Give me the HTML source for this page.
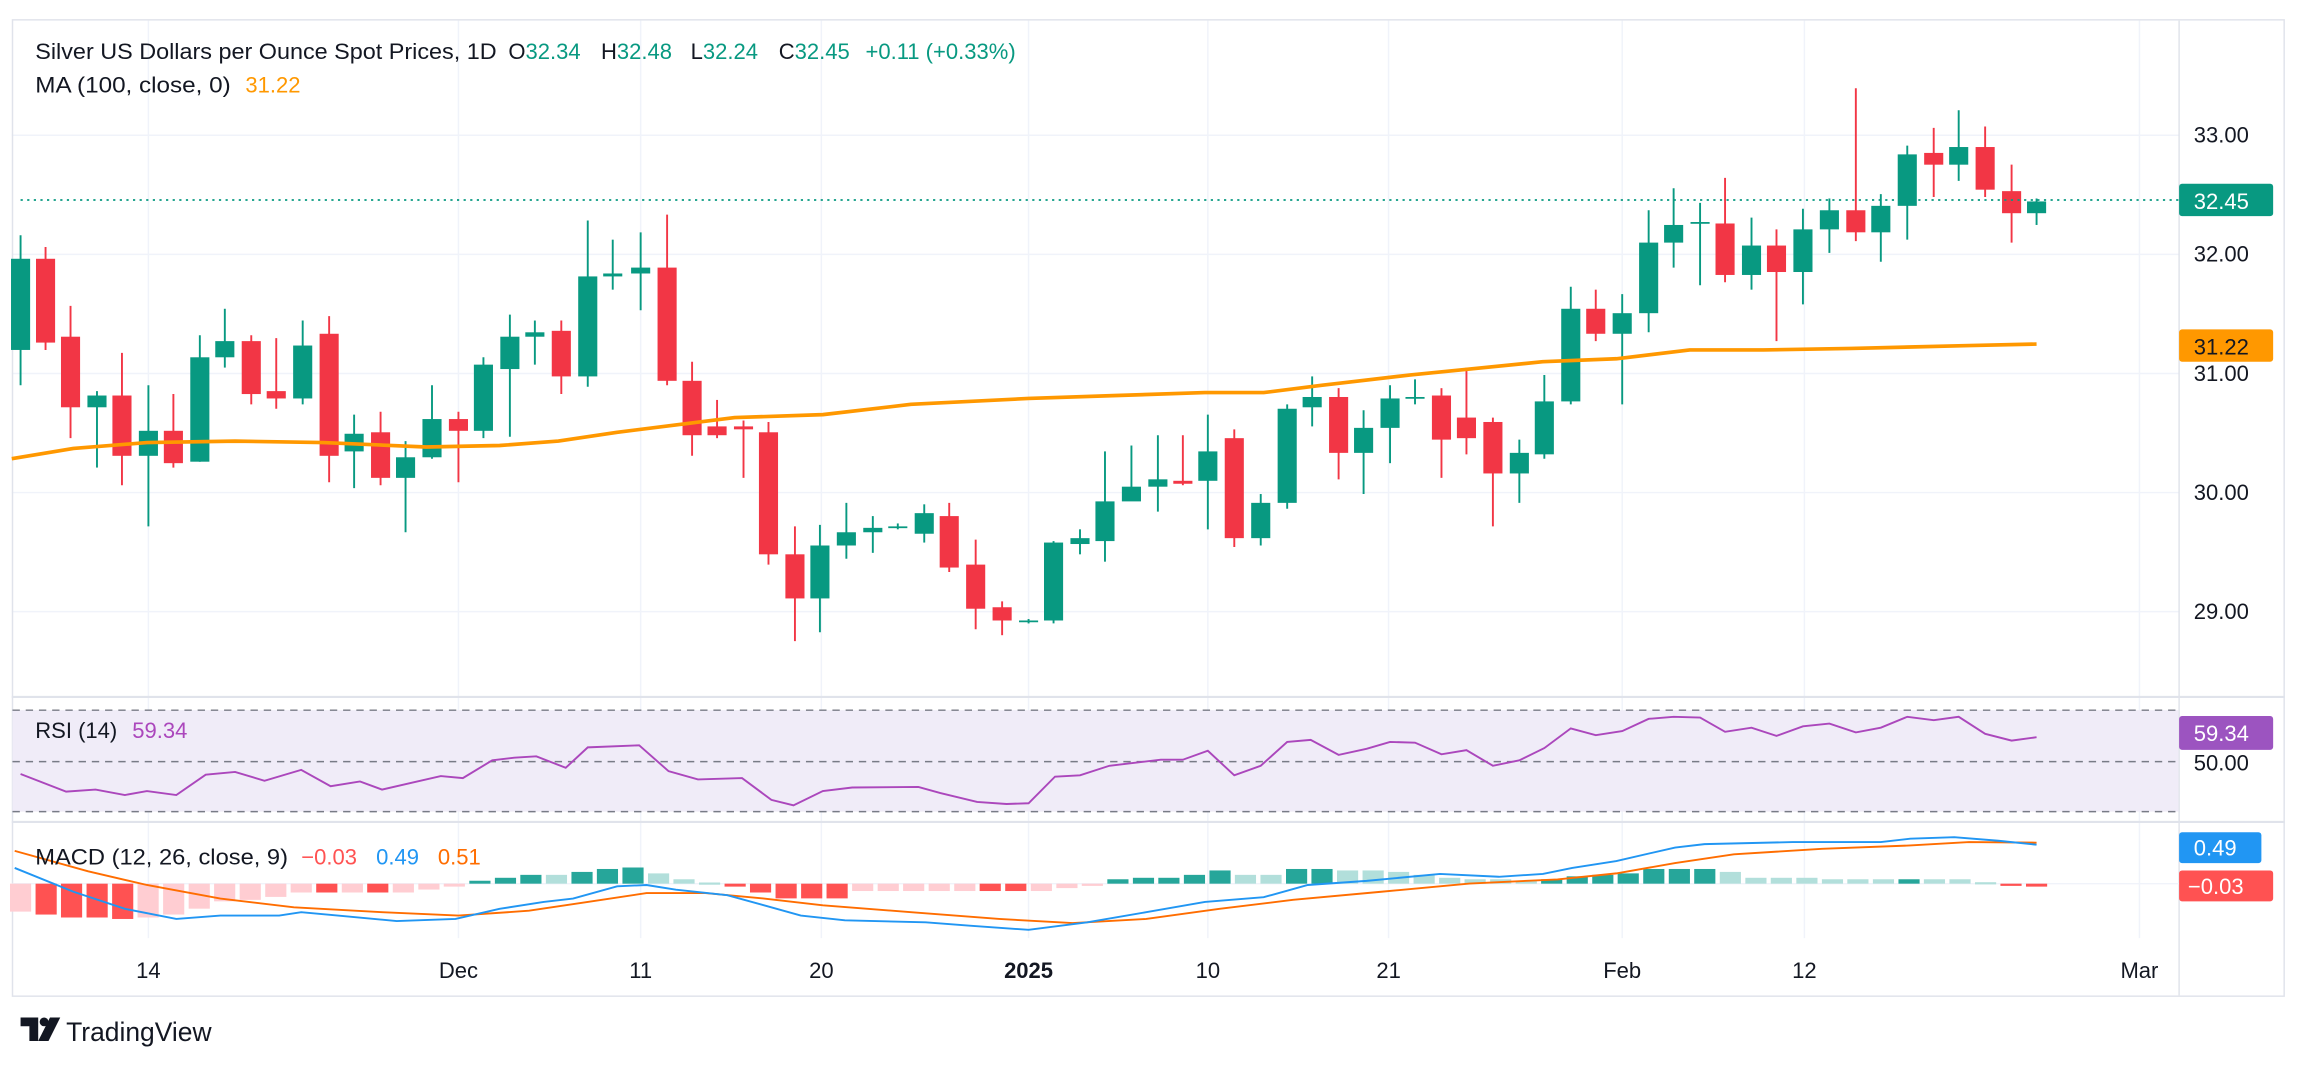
<!DOCTYPE html>
<html><head><meta charset="utf-8"><style>
html,body{margin:0;padding:0;background:#fff;}
svg{display:block;}
text{font-family:"Liberation Sans",sans-serif;}
</style></head><body>
<svg id="s" width="2304" height="1066" viewBox="0 0 1568 725" preserveAspectRatio="none" xmlns="http://www.w3.org/2000/svg">
<rect x="0" y="0" width="1568" height="725" fill="#fff"/>
<g id="grid" stroke="#f0f3fa" stroke-width="1"></g>
<rect x="8.5" y="13.5" width="1546" height="664" fill="none" stroke="#e0e3eb"/>
<line x1="8" y1="474" x2="1555" y2="474" stroke="#e0e3eb" stroke-width="1.5"/>
<line x1="8" y1="559" x2="1555" y2="559" stroke="#e0e3eb" stroke-width="1.5"/>
<rect x="8.5" y="483" width="1474" height="69" fill="#f0ecf8"/>
<g stroke="#787b86" stroke-width="1" stroke-dasharray="5,4">
<line x1="8.5" y1="483" x2="1483" y2="483"/><line x1="8.5" y1="518" x2="1483" y2="518"/><line x1="8.5" y1="552" x2="1483" y2="552"/>
</g>
<line x1="8.5" y1="601" x2="1483" y2="601" stroke="#f0f3fa"/>
<g id="hist"></g>
<g id="candles"></g>
<polyline id="ma" fill="none" stroke="#ff9800" stroke-width="2.5" stroke-linejoin="round"/>
<line x1="14" y1="136" x2="1483" y2="136" stroke="#089981" stroke-width="1.2" stroke-dasharray="1.5,3"/>
<polyline id="rsi" fill="none" stroke="#ab47bc" stroke-width="1.3"/>
<polyline id="sig" fill="none" stroke="#ff6d00" stroke-width="1.3"/>
<polyline id="macd" fill="none" stroke="#2196f3" stroke-width="1.3"/>
<g font-size="15" fill="#131722">
<text x="24" y="40" textLength="314" lengthAdjust="spacingAndGlyphs">Silver US Dollars per Ounce Spot Prices, 1D</text>
<text x="346" y="40">O<tspan fill="#089981">32.34</tspan></text>
<text x="409" y="40">H<tspan fill="#089981">32.48</tspan></text>
<text x="470" y="40">L<tspan fill="#089981">32.24</tspan></text>
<text x="530" y="40">C<tspan fill="#089981">32.45</tspan></text>
<text x="589" y="40" fill="#089981">+0.11 (+0.33%)</text>
<text x="24" y="63" textLength="133" lengthAdjust="spacingAndGlyphs">MA (100, close, 0)</text>
<text x="167" y="63" fill="#ff9800">31.22</text>
<text x="24" y="502">RSI (14)</text><text x="90" y="502" fill="#ab47bc">59.34</text>
<text x="24" y="588" textLength="172" lengthAdjust="spacingAndGlyphs">MACD (12, 26, close, 9)</text>
<text x="205" y="588" fill="#ff5252">−0.03</text>
<text x="256" y="588" fill="#2196f3">0.49</text>
<text x="298" y="588" fill="#ff6d00">0.51</text>
</g>
<g font-size="15" fill="#131722">
<text x="1493" y="97">33.00</text><text x="1493" y="178">32.00</text><text x="1493" y="259">31.00</text><text x="1493" y="340">30.00</text><text x="1493" y="421">29.00</text>
<text x="1493" y="524">50.00</text>
</g>
<rect x="1483" y="125" width="64" height="22" rx="2" fill="#089981"/><text x="1493" y="142" font-size="15" fill="#fff">32.45</text>
<rect x="1483" y="224" width="64" height="22" rx="2" fill="#ff9800"/><text x="1493" y="241" font-size="15" fill="#131722">31.22</text>
<rect x="1483" y="487" width="64" height="23" rx="2" fill="#9c54c0"/><text x="1493" y="504" font-size="15" fill="#fff">59.34</text>
<rect x="1483" y="566" width="56" height="21" rx="2" fill="#2196f3"/><text x="1493" y="582" font-size="15" fill="#fff">0.49</text>
<rect x="1483" y="592" width="64" height="21" rx="2" fill="#ff5252"/><text x="1489" y="608" font-size="15" fill="#fff">−0.03</text>
<g font-size="15" fill="#131722" text-anchor="middle">
<text x="101" y="665">14</text><text x="312" y="665">Dec</text><text x="436" y="665">11</text><text x="559" y="665">20</text><text x="700" y="665" font-weight="bold">2025</text><text x="822" y="665">10</text><text x="945" y="665">21</text><text x="1104" y="665">Feb</text><text x="1228" y="665">12</text><text x="1456" y="665">Mar</text>
</g>
<g fill="#131722">
<path d="M14 692 h12 v16 h-6 v-10 h-6 z"/><circle cx="30" cy="695" r="3"/><path d="M34 692 h7 l-8 16 h-7 z"/>
<text x="45" y="708" font-size="18">TradingView</text>
</g>
</svg>
<script>
var NS="http://www.w3.org/2000/svg";
function el(p,t,a){var e=document.createElementNS(NS,t);for(var k in a)e.setAttribute(k,a[k]);p.appendChild(e);return e;}
var grid=document.getElementById('grid');
[92,173,254,335,416].forEach(function(y){el(grid,'line',{x1:8,y1:y,x2:1483,y2:y});});
[101,312,436,559,700,822,945,1104,1228,1456].forEach(function(x){el(grid,'line',{x1:x,y1:14,x2:x,y2:638});});
el(grid,'line',{x1:1483,y1:14,x2:1483,y2:677,stroke:'#e0e3eb'});
var C=[[14,238,176,160,262],[31,176,233,168,238],[48,229,277,208,298],[66,277,269,266,318],[83,269,310,240,330],[101,310,293,262,358],[118,293,315,268,318],[136,314,243,228,314],[153,243,232,210,250],[171,232,268,228,275],[188,266,271,230,278],[206,271,235,218,275],[224,227,310,215,328],[241,307,295,282,332],[259,294,325,280,330],[276,325,311,300,362],[294,311,285,262,312],[312,285,293,280,328],[329,293,248,243,298],[347,251,229,214,297],[364,229,226,218,248],[382,225,256,218,268],[400,256,188,150,263],[417,188,186,163,197],[436,186,182,158,211],[454,182,259,146,262],[471,259,296,246,310],[488,290,296,272,298],[506,290,292,286,325],[523,294,377,287,384],[541,377,407,358,436],[558,407,371,357,430],[576,371,362,342,380],[594,362,359,351,376],[611,359,358,356,360],[629,363,349,343,369],[646,351,386,342,389],[664,384,414,367,428],[682,413,422,409,432],[700,423,422,421,424],[717,422,369,368,424],[735,370,366,360,377],[752,368,341,307,382],[770,341,331,303,334],[788,331,326,296,348],[805,327,329,296,330],[822,327,307,282,360],[840,298,366,292,372],[858,366,342,336,371],[876,342,278,275,346],[893,277,270,256,290],[911,270,308,264,326],[928,308,291,279,336],[946,291,271,262,315],[963,271,270,258,275],[981,269,299,264,325],[998,284,298,250,309],[1016,287,322,284,358],[1034,322,308,299,342],[1051,309,273,255,312],[1069,273,210,195,275],[1086,210,227,197,232],[1104,227,213,200,275],[1122,213,165,143,226],[1139,165,153,128,182],[1157,152,151,138,194],[1174,152,187,121,192],[1192,187,167,148,197],[1209,167,185,156,232],[1227,185,156,142,207],[1245,156,143,135,172],[1263,143,158,60,164],[1280,158,140,132,178],[1298,140,105,99,163],[1316,104,112,87,134],[1333,112,100,75,123],[1351,100,129,86,134],[1369,130,145,112,165],[1386,145,137,135,153]];
var cg=document.getElementById('candles');
C.forEach(function(c){var up=c[2]<=c[1];var col=up?'#089981':'#f23645';
el(cg,'line',{x1:c[0],y1:c[3],x2:c[0],y2:c[4],stroke:col,'stroke-width':1.3});
var t=Math.min(c[1],c[2]),h=Math.max(1.2,Math.abs(c[1]-c[2]));
el(cg,'rect',{x:c[0]-6.5,y:t,width:13,height:h,fill:col});});
document.getElementById('ma').setAttribute('points',"8,312 50,305 100,301 160,300 220,301 290,304 340,303 380,300 420,294 460,289 500,284 560,282 620,275 700,271 760,269 820,267 860,267 900,262 960,255 1000,251 1050,246 1100,244 1150,238 1200,238 1260,237 1300,236 1340,235 1386,234");
var R=[[14,1137],[45,1163],[65,1160],[85,1168],[100,1162],[120,1168],[140,1138],[160,1134],[180,1147],[205,1131],[225,1155],[245,1148],[260,1160],[280,1150],[300,1140],[315,1143],[335,1117],[350,1113],[365,1111],[385,1128],[400,1098],[435,1095],[455,1133],[475,1145],[505,1143],[525,1175],[540,1183],[560,1162],[580,1157],[625,1156],[640,1165],[665,1178],[685,1181],[700,1180],[718,1141],[735,1139],[755,1125],[790,1116],[805,1116],[822,1103],[840,1139],[858,1125],[876,1090],[892,1087],[911,1109],[930,1100],[946,1090],[963,1091],[981,1108],[998,1102],[1016,1125],[1034,1117],[1051,1099],[1069,1070],[1086,1080],[1104,1074],[1122,1056],[1139,1053],[1157,1054],[1174,1075],[1192,1069],[1209,1081],[1227,1067],[1245,1063],[1263,1076],[1280,1069],[1298,1053],[1316,1058],[1333,1053],[1351,1078],[1369,1088],[1386,1083]];
function pts(a){return a.map(function(p){return p[0]+","+(p[1]/2.16).toFixed(1);}).join(" ");}
document.getElementById('rsi').setAttribute('points',pts(R));
var B=[[10,1275],[50,1310],[85,1335],[120,1350],[150,1345],[190,1345],[205,1340],[230,1345],[270,1353],[310,1350],[340,1335],[370,1325],[390,1320],[420,1302],[440,1300],[460,1307],[495,1315],[520,1330],[545,1345],[575,1352],[630,1355],[660,1360],[700,1366],[740,1355],[780,1340],[820,1325],[860,1318],[890,1300],[930,1294],[980,1284],[1020,1288],[1050,1284],[1070,1275],[1100,1265],[1140,1245],[1160,1240],[1220,1237],[1280,1237],[1300,1232],[1330,1230],[1360,1235],[1386,1241]];
var S=[[10,1250],[60,1280],[100,1300],[150,1320],[200,1333],[260,1340],[312,1345],[360,1338],[400,1325],[440,1312],[480,1312],[520,1320],[560,1330],[620,1340],[680,1350],[730,1356],[780,1350],[830,1335],[880,1322],[940,1310],[1000,1298],[1060,1292],[1100,1283],[1140,1268],[1180,1255],[1240,1247],[1300,1242],[1340,1237],[1386,1238]];
document.getElementById('macd').setAttribute('points',pts(B));
document.getElementById('sig').setAttribute('points',pts(S));
var H=[[-19,'L'],[-21,'D'],[-23,'D'],[-23,'D'],[-24,'D'],[-23,'L'],[-21,'L'],[-17,'L'],[-12,'L'],[-11,'L'],[-9,'L'],[-6,'L'],[-6,'D'],[-6,'L'],[-6,'D'],[-6,'L'],[-4,'L'],[-2,'L'],[2,'D'],[4,'D'],[6,'D'],[6,'L'],[8,'D'],[10,'D'],[11,'D'],[7,'L'],[3,'L'],[0.8,'L'],[-2,'D'],[-6,'D'],[-10,'D'],[-10,'D'],[-10,'D'],[-5,'L'],[-5,'L'],[-5,'L'],[-5,'L'],[-5,'L'],[-5,'D'],[-5,'D'],[-5,'L'],[-3,'L'],[-1,'L'],[3,'D'],[4,'D'],[4,'D'],[6,'D'],[9,'D'],[6,'L'],[6,'L'],[10,'D'],[10,'D'],[9,'L'],[9,'L'],[8,'L'],[6,'L'],[4,'L'],[3,'L'],[3,'L'],[2,'L'],[3,'D'],[5,'D'],[6,'D'],[7,'D'],[10,'D'],[10,'D'],[10,'D'],[8,'L'],[4,'L'],[4,'L'],[4,'L'],[3,'L'],[3,'L'],[3,'L'],[3,'D'],[3,'L'],[3,'L'],[1,'L'],[-1,'D'],[-2,'D']];
var hg=document.getElementById('hist');
var n=H.length, x0=14, step=(1386-14)/(n-1);
H.forEach(function(h,i){var v=h[0],x=x0+i*step;var col=v>=0?(h[1]=='D'?'#26a69a':'#b2dfdb'):(h[1]=='D'?'#ff5252':'#ffcdd2');
var y=v>=0?601-v:601,hh=Math.max(1.5,Math.abs(v));
el(hg,'rect',{x:(x-7.2).toFixed(1),y:y,width:14.4,height:hh,fill:col});});
</script>
</body></html>
